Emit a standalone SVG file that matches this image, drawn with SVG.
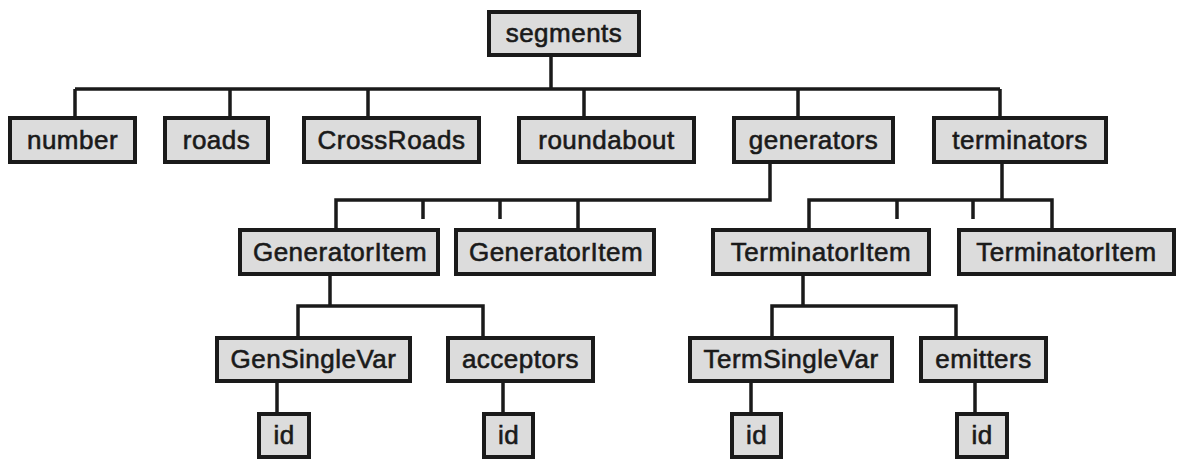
<svg xmlns="http://www.w3.org/2000/svg" width="1178" height="464" viewBox="0 0 1178 464">
  <style>
    .box rect { fill: #dcdcdc; stroke: #1a1a1a; stroke-width: 4; }
    .box text { font-family: "Liberation Sans", Arial, sans-serif; font-size: 26px; letter-spacing: 0.5px; fill: #1a1a1a; stroke: #1a1a1a; stroke-width: 0.6; text-anchor: middle; }
    #connectors path { fill: none; stroke: #1a1a1a; stroke-width: 3.5; stroke-linecap: butt; stroke-linejoin: miter; }
  </style>
  <rect width="1178" height="464" fill="#ffffff"/>

  <!-- tree lines -->
  <g id="connectors">
    <!-- root to first level -->
    <path d="M551 57 V89 M75 89 H1000 M75 89 V116 M230 89 V116 M368 89 V116 M584 89 V116 M798 89 V116 M1000 89 V116"/>
    <!-- generators branch -->
    <path d="M770 164 V200 H336 V228 M578 200 V228 M423 200 V219 M500 200 V219"/>
    <!-- terminators branch -->
    <path d="M1002 164 V200 M809 228 V200 H1052 V228 M897 200 V219 M973 200 V219"/>
    <!-- GeneratorItem children -->
    <path d="M330 276 V306 M298 336 V306 H483 V336"/>
    <!-- TerminatorItem children -->
    <path d="M803 276 V306 M772 336 V306 H956 V336"/>
    <!-- id leaves -->
    <path d="M277 383 V412 M503 383 V412 M751 383 V412 M975 383 V412"/>
  </g>

  <!-- root -->
  <g id="segments" class="box"><rect x="489" y="12" width="150" height="43"/><text x="564" y="42">segments</text></g>

  <!-- first level -->
  <g id="number" class="box"><rect x="10" y="118" width="125" height="44"/><text x="72.5" y="149">number</text></g>
  <g id="roads" class="box"><rect x="165" y="118" width="103" height="44"/><text x="216.5" y="149">roads</text></g>
  <g id="crossroads" class="box"><rect x="304" y="118" width="175" height="44"/><text x="391.5" y="149">CrossRoads</text></g>
  <g id="roundabout" class="box"><rect x="519" y="118" width="175" height="44"/><text x="606.5" y="149">roundabout</text></g>
  <g id="generators" class="box"><rect x="734" y="118" width="159" height="44"/><text x="813.5" y="149">generators</text></g>
  <g id="terminators" class="box"><rect x="934" y="118" width="172" height="44"/><text x="1020" y="149">terminators</text></g>

  <!-- second level -->
  <g id="generator-item-1" class="box"><rect x="240" y="230" width="198" height="44"/><text x="340" y="261">GeneratorItem</text></g>
  <g id="generator-item-2" class="box"><rect x="456" y="230" width="198" height="44"/><text x="556" y="261">GeneratorItem</text></g>
  <g id="terminator-item-1" class="box"><rect x="713" y="230" width="216" height="44"/><text x="821" y="261">TerminatorItem</text></g>
  <g id="terminator-item-2" class="box"><rect x="959" y="230" width="215" height="44"/><text x="1066.5" y="261">TerminatorItem</text></g>

  <!-- third level -->
  <g id="gen-single-var" class="box"><rect x="217" y="338" width="193" height="43"/><text x="313.5" y="368">GenSingleVar</text></g>
  <g id="acceptors" class="box"><rect x="448" y="338" width="145" height="43"/><text x="520.5" y="368">acceptors</text></g>
  <g id="term-single-var" class="box"><rect x="690" y="338" width="202" height="43"/><text x="791" y="368">TermSingleVar</text></g>
  <g id="emitters" class="box"><rect x="921" y="338" width="125" height="43"/><text x="983.5" y="368">emitters</text></g>

  <!-- leaves -->
  <g id="gen-id" class="box"><rect x="259" y="414" width="50" height="43"/><text x="284" y="444">id</text></g>
  <g id="acceptors-id" class="box"><rect x="484" y="414" width="49" height="43"/><text x="508.5" y="444">id</text></g>
  <g id="term-id" class="box"><rect x="732" y="414" width="49" height="43"/><text x="756.5" y="444">id</text></g>
  <g id="emitters-id" class="box"><rect x="957" y="414" width="50" height="43"/><text x="982" y="444">id</text></g>
</svg>
